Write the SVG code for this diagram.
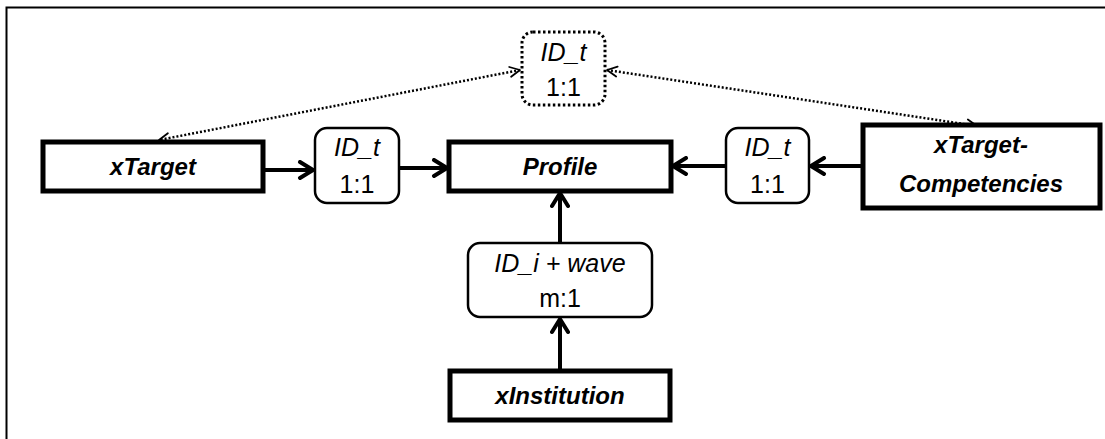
<svg xmlns="http://www.w3.org/2000/svg" width="1105" height="439" viewBox="0 0 1105 439">
<style>
.ent{fill:#fff;stroke:#000;stroke-width:5}
.key{fill:#fff;stroke:#000;stroke-width:2.5}
.keyd{fill:#fff;stroke:#000;stroke-width:3;stroke-dasharray:2.5 2.5}
.bt{font-family:"Liberation Sans",Arial,sans-serif;font-size:24px;font-weight:bold;font-style:italic;text-anchor:middle;fill:#000}
.it{font-family:"Liberation Sans",Arial,sans-serif;font-size:25px;font-style:italic;text-anchor:middle;fill:#000}
.rt{font-family:"Liberation Sans",Arial,sans-serif;font-size:25px;text-anchor:middle;fill:#000}
.con{stroke:#000;stroke-width:4;fill:none}
.dot{stroke:#000;stroke-width:2.5;fill:none;stroke-dasharray:2 2}
</style>
<defs>
<marker id="ah" viewBox="0 0 20 20" refX="17" refY="10" markerWidth="20" markerHeight="20" markerUnits="userSpaceOnUse" orient="auto-start-reverse">
<path d="M4,2 L17,10 L4,18" fill="none" stroke="#000" stroke-width="4" stroke-linecap="round" stroke-linejoin="round"/>
</marker>
<marker id="ad" viewBox="0 0 14 14" refX="12" refY="7" markerWidth="14" markerHeight="14" markerUnits="userSpaceOnUse" orient="auto-start-reverse">
<path d="M2,2 L12,7 L2,12" fill="none" stroke="#000" stroke-width="1.8" stroke-linecap="round" stroke-linejoin="round"/>
</marker>
</defs>
<rect width="1105" height="439" fill="#fff"/>
<path d="M6.5,439 L6.5,7.5 L1105,7.5" fill="none" stroke="#000" stroke-width="2"/>

<g id="connectors">
<line class="dot" x1="520" y1="70" x2="159" y2="140" marker-start="url(#ad)" marker-end="url(#ad)"/>
<line class="dot" x1="607" y1="70" x2="977" y2="126" marker-start="url(#ad)" marker-end="url(#ad)"/>
<line class="con" x1="264" y1="170" x2="313" y2="170" marker-end="url(#ah)"/>
<line class="con" x1="399" y1="168" x2="447" y2="168" marker-end="url(#ah)"/>
<line class="con" x1="861" y1="166" x2="811" y2="166" marker-end="url(#ah)"/>
<line class="con" x1="726" y1="166" x2="673" y2="166" marker-end="url(#ah)"/>
<line class="con" x1="560" y1="369" x2="560" y2="319" marker-end="url(#ah)"/>
<line class="con" x1="560" y1="243" x2="560" y2="193" marker-end="url(#ah)"/>
</g>

<g id="key-top">
<rect class="keyd" x="522" y="32" width="83" height="73" rx="11"/>
<text class="it" x="563.5" y="61">ID_t</text>
<text class="rt" x="563.5" y="96">1:1</text>
</g>

<g id="xTarget">
<rect class="ent" x="43" y="142" width="220" height="49"/>
<text class="bt" x="153" y="175">xTarget</text>
</g>

<g id="key-left">
<rect class="key" x="315" y="128" width="84" height="75" rx="12"/>
<text class="it" x="357" y="156">ID_t</text>
<text class="rt" x="357" y="193">1:1</text>
</g>

<g id="Profile">
<rect class="ent" x="449" y="142" width="222" height="49"/>
<text class="bt" x="560" y="175">Profile</text>
</g>

<g id="key-right">
<rect class="key" x="726" y="128" width="83" height="75" rx="12"/>
<text class="it" x="767.5" y="156">ID_t</text>
<text class="rt" x="767.5" y="193">1:1</text>
</g>

<g id="xTarget-Competencies">
<rect class="ent" x="863" y="125" width="237" height="83"/>
<text class="bt" x="981" y="153">xTarget-</text>
<text class="bt" x="981" y="192">Competencies</text>
</g>

<g id="key-bottom">
<rect class="key" x="468" y="243" width="184" height="74" rx="12"/>
<text class="it" x="560" y="272">ID_i + wave</text>
<text class="rt" x="560" y="307">m:1</text>
</g>

<g id="xInstitution">
<rect class="ent" x="450" y="371" width="220" height="49"/>
<text class="bt" x="560" y="404">xInstitution</text>
</g>
</svg>
